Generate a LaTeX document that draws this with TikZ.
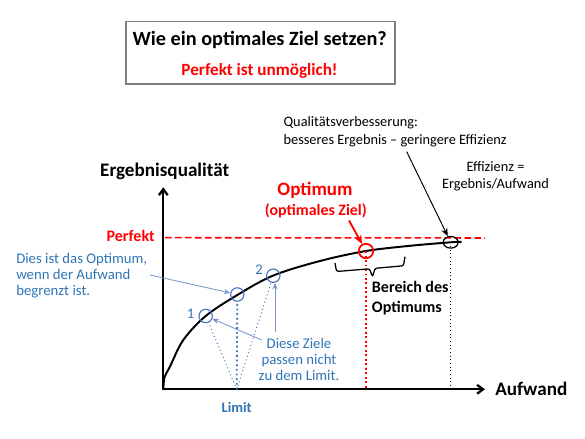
\documentclass[tikz,border=0pt]{standalone}
\usepackage{fontspec}
\setmainfont{Carlito}
\usetikzlibrary{arrows.meta,shapes.geometric}
\definecolor{zielrot}{RGB}{255,0,0}
\definecolor{textblau}{RGB}{46,117,182}
\definecolor{kreisblau}{RGB}{68,114,196}
\definecolor{pfeilblau}{RGB}{120,150,205}
\definecolor{rahmengrau}{RGB}{127,127,127}
\begin{document}
\begin{tikzpicture}[x=0.025cm, y=-0.025cm, >=Stealth,
    achse/.style={line width=1.6pt, {Straight Barb[length=1.5mm,width=2.2mm]}-{Straight Barb[length=1.5mm,width=2.2mm]}},
    schrift/.style={inner sep=0pt, font=\fontsize{10.2}{13.5}\selectfont},
    fett/.style={inner sep=0pt, font=\bfseries\fontsize{#1}{14.2}\selectfont},
    blautext/.style={inner sep=0pt, text=textblau, font=\fontsize{10.5}{11.3}\selectfont},
    ziel/.style={circle, draw=kreisblau, line width=0.8pt, minimum size=0.335cm, inner sep=0pt},
    hinweis/.style={pfeilblau, line width=0.6pt, -{Stealth[length=1.6mm,width=1.3mm]}},
    lot/.style={kreisblau, dotted, line width=0.7pt}]
    \useasboundingbox (0,0) rectangle (585,439);

    % Titel im Rahmen
    \node[draw=rahmengrau, line width=0.8pt, minimum width=6.725cm, minimum height=1.5575cm] (rahmen) at (260.5,52.85) {};
    \node[fett=14.4, anchor=base] (titel) at (259.7,45.7) {Wie ein optimales Ziel setzen?};
    \node[fett=12.2, text=zielrot, anchor=base] (untertitel) at (259.5,76) {Perfekt ist unmöglich!};

    % Achsen
    \coordinate (ursprung) at (163.3,389.3);
    \coordinate (yspitze) at (163.3,187.3);
    \coordinate (xspitze) at (485,389.3);
    \draw[achse] (yspitze) -- (ursprung) -- (xspitze);
    \node[fett=13.6, anchor=base] (ylabel) at (164.7,176.7) {Ergebnisqualität};
    \node[fett=13.6, anchor=base west] (xlabel) at (495,395.3) {Aufwand};

    % Perfekt-Linie
    \coordinate (pstart) at (165,237.7);
    \coordinate (pende) at (485,238);
    \draw[zielrot, line width=1.1pt, dash pattern=on 4.7pt off 2.4pt] (pstart) -- (pende);
    \node[fett=11.4, text=zielrot, anchor=base east] (perfekt) at (155,241.7) {Perfekt};

    % Kurve Ergebnis/Aufwand
    \draw[line width=1.4pt] plot[smooth, tension=0.55] coordinates {(163.3,389.3) (164.6,377) (170,366.5) (183.3,340) (205.7,316) (237.3,295) (273.3,275.5) (320,261) (366,251) (410,245.8) (450.7,242.3) (461.7,241.8)};

    % Punkte auf der Kurve
    \node[ziel] (c1) at (205.7,316) {};
    \node[ziel] (cmitte) at (237.3,294.5) {};
    \node[ziel] (c2) at (273.3,275.7) {};
    \node[circle, draw=zielrot, line width=1.2pt, minimum size=0.36cm, inner sep=0pt] (optpunkt) at (366,251) {};
    \node[ellipse, draw, line width=0.9pt, minimum width=0.375cm, minimum height=0.29cm, inner sep=0pt] (perfpunkt) at (450.7,242.3) {};
    \node[blautext, anchor=base] (n1) at (190.7,318.7) {1};
    \node[blautext, anchor=base] (n2) at (259,274) {2};

    % Limit
    \coordinate (limit) at (236.7,389.3);
    \draw[lot] (limit) -- (c1);
    \draw[lot] (limit) -- (c2);
    \draw[lot, line width=1.3pt] (limit) -- (cmitte);
    \node[fett=10.3, text=textblau, anchor=base] (limittext) at (236.7,412) {Limit};

    % Lote vom Optimum und von der Perfektion
    \draw[zielrot, dotted, line width=1.2pt] (optpunkt.center) -- (optpunkt.center |- ursprung);
    \draw[dotted, line width=0.6pt] (perfpunkt.center) -- (perfpunkt.center |- ursprung);

    % Optimum
    \node[fett=13.5, text=zielrot, anchor=base] (optimum) at (315,195.7) {Optimum};
    \node[fett=11.3, text=zielrot, anchor=base] (optziel) at (315.8,215) {(optimales Ziel)};
    \coordinate (optpfeil) at (349,220.5);
    \draw[zielrot, line width=1.3pt, -{Stealth[length=2.2mm,width=1.8mm]}] (optpfeil) -- (optpunkt);

    % Bereich des Optimums (Klammer)
    \draw[line width=0.9pt, rounded corners=1.5pt] (335,263) -- (336.5,271.5) -- (369.5,268.8) -- (372.5,276.8) -- (375,268.3) -- (403.5,265.8) -- (405,256.7);
    \node[fett=11.4, align=left, anchor=base west] (bereich) at (371.7,312) {Bereich des\\ Optimums};

    % Qualitaetsverbesserung
    \node[schrift, align=left, anchor=base west] (qualitaet) at (283.3,145) {Qualitätsverbesserung:\\ besseres Ergebnis – geringere Effizienz};
    \coordinate (qualpfeil) at (406.7,151.7);
    \draw[line width=0.7pt, -{Stealth[length=2mm,width=1.6mm]}] (qualpfeil) -- (perfpunkt);
    \node[schrift, align=center, font=\fontsize{10.2}{11.8}\selectfont, anchor=base] (effizienz) at (495.5,188) {Effizienz =\\ Ergebnis/Aufwand};

    % Hinweise in Blau
    \node[blautext, align=left, anchor=base west] (optimumtext) at (16,295.5) {Dies ist das Optimum,\\ wenn der Aufwand\\ begrenzt ist.};
    \coordinate (dpfeil) at (150,275);
    \draw[hinweis] (dpfeil) -- (cmitte);
    \node[blautext, align=center, anchor=base] (zieletext) at (299,380.7) {Diese Ziele\\ passen nicht\\ zu dem Limit.};
    \coordinate (zpfeil1) at (261.7,340);
    \coordinate (zpfeil2) at (275,331.5);
    \draw[hinweis] (zpfeil1) -- (c1);
    \draw[hinweis] (zpfeil2) -- (zpfeil2 |- c2.south);
\end{tikzpicture}
\end{document}
